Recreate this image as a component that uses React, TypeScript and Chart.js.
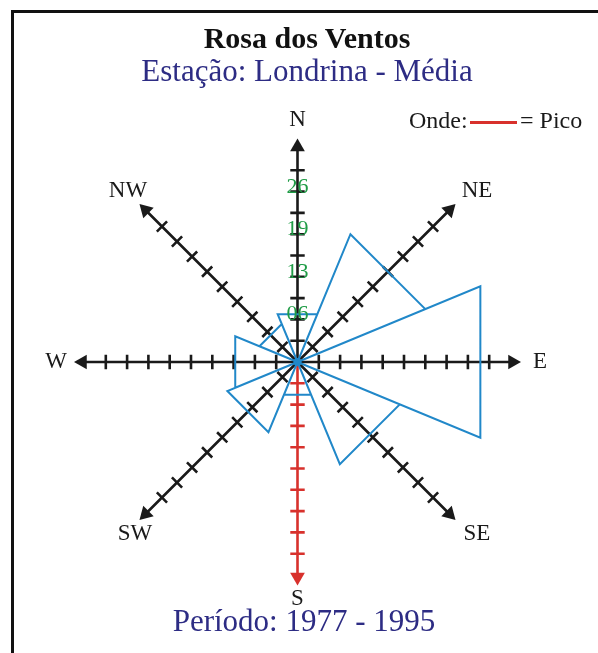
import React, { useEffect, useRef } from "react";
import { Chart, registerables } from "chart.js";

Chart.register(...registerables);

// ---- data ----
const directions = ["N", "NE", "E", "SE", "S", "SW", "W", "NW"];
const directionAngles = [90, 45, 0, -45, -90, -135, 180, 135]; // math degrees
const frequencies = [7.3, 19.5, 27.9, 15.6, 5.0, 10.7, 9.5, 5.8]; // % (Média)
const tickValues = [3.25, 6.5, 9.75, 13, 16.25, 19.5, 22.75, 26, 29.25];
const tickLabelValues = [6.5, 13, 19.5, 26];
const tickLabels = ["06", "13", "19", "26"];
const peakDirection = "S";
const axisLength = 34.1;

// ---- layout constants ----
const W = 598;
const H = 653;
const CX = 297.5;
const CY = 362;
const PX_PER_UNIT = 21.3 / 3.25;
const TICK_HALF = 1.1;
const HEAD_R = 8.5 / PX_PER_UNIT;
const LABEL_R = 37;
// small pixel nudges for the compass labels (style only)
const LABEL_NUDGE: Record<string, [number, number]> = {
  N: [0, 0],
  NE: [8, 0],
  E: [0, 0],
  SE: [8, 0],
  S: [0, -6],
  SW: [9, 0],
  W: [1, 0],
  NW: [2, 0],
};
const SERIF = '"Liberation Serif", "Times New Roman", serif';
const BLACK = "#1a1a1a";
const RED = "#d8312c";
const BLUE = "#2188c9";
const GREEN = "#1f9c46";
const NAVY = "#2d2c84";

function polar(r: number, deg: number) {
  const a = (deg * Math.PI) / 180;
  return { x: r * Math.cos(a), y: r * Math.sin(a) };
}

function buildWedges() {
  const pts: any[] = [];
  const half = 22.5;
  const k = 1 / Math.cos((half * Math.PI) / 180);
  directions.forEach((_, i) => {
    const ang = directionAngles[i];
    const r = frequencies[i] * k;
    pts.push({ x: 0, y: 0 });
    pts.push(polar(r, ang + half));
    pts.push(polar(r, ang - half));
  });
  pts.push({ x: 0, y: 0 });
  return pts;
}

function buildAxis(i: number) {
  const ang = directionAngles[i];
  const pts: any[] = [];
  pts.push({ x: 0, y: 0 });
  pts.push(polar(axisLength - HEAD_R, ang));
  const a = (ang * Math.PI) / 180;
  const px = -Math.sin(a);
  const py = Math.cos(a);
  tickValues.forEach((v) => {
    const c = polar(v, ang);
    pts.push({ x: null, y: null });
    pts.push({ x: c.x - px * TICK_HALF, y: c.y - py * TICK_HALF });
    pts.push({ x: c.x + px * TICK_HALF, y: c.y + py * TICK_HALF });
  });
  return pts;
}

const labelPlugin = {
  id: "roseLabels",
  afterDatasetsDraw(chart: any) {
    const { ctx } = chart;
    const xs = chart.scales.x;
    const ys = chart.scales.y;
    ctx.save();
    ctx.font = `23px ${SERIF}`;
    ctx.fillStyle = BLACK;
    ctx.textAlign = "center";
    ctx.textBaseline = "middle";
    directions.forEach((d, i) => {
      const p = polar(LABEL_R, directionAngles[i]);
      const [nx, ny] = LABEL_NUDGE[d] || [0, 0];
      ctx.fillText(d, xs.getPixelForValue(p.x) + nx, ys.getPixelForValue(p.y) + ny);
    });
    ctx.font = `22px ${SERIF}`;
    ctx.fillStyle = GREEN;
    ctx.textBaseline = "alphabetic";
    tickLabelValues.forEach((v, i) => {
      ctx.fillText(tickLabels[i], xs.getPixelForValue(0), ys.getPixelForValue(v) + 1);
    });
    ctx.restore();
  },
};

function RoseChart() {
  const ref = useRef<HTMLCanvasElement | null>(null);
  useEffect(() => {
    if (!ref.current) return;
    const axisSets = directions.map((d, i) => ({
      label: "axis-" + d,
      data: buildAxis(i),
      showLine: true,
      borderColor: d === peakDirection ? RED : BLACK,
      borderWidth: 2.6,
      borderCapStyle: "butt",
      pointRadius: 0,
      order: 3,
    }));
    const heads = directions.map((_, i) => polar(axisLength - HEAD_R, directionAngles[i]));
    const chart = new Chart(ref.current, {
      type: "scatter",
      data: {
        datasets: [
          {
            label: "Média",
            data: buildWedges(),
            showLine: true,
            borderColor: BLUE,
            borderWidth: 2,
            borderJoinStyle: "miter",
            pointRadius: 0,
            fill: false,
            order: 1,
          },
          {
            label: "centro",
            data: [{ x: 0, y: 0 }],
            pointRadius: 4,
            pointBackgroundColor: BLUE,
            pointBorderWidth: 0,
            order: 0,
          },
          {
            label: "pontas",
            data: heads,
            pointStyle: "triangle",
            pointRadius: 8.5,
            pointRotation: directionAngles.map((a) => 90 - a),
            pointBackgroundColor: directions.map((d) => (d === peakDirection ? RED : BLACK)),
            pointBorderWidth: 0,
            order: 2,
          },
          ...axisSets,
        ] as any,
      },
      options: {
        animation: false,
        responsive: false,
        maintainAspectRatio: false,
        layout: { padding: 0, autoPadding: false },
        events: [],
        scales: {
          x: { type: "linear", display: false, min: -CX / PX_PER_UNIT, max: (W - CX) / PX_PER_UNIT },
          y: { type: "linear", display: false, min: -(H - CY) / PX_PER_UNIT, max: CY / PX_PER_UNIT },
        },
        plugins: { legend: { display: false }, tooltip: { enabled: false }, title: { display: false } },
      } as any,
      plugins: [labelPlugin],
    });
    return () => chart.destroy();
  }, []);
  return <canvas ref={ref} width={W} height={H} style={{ position: "absolute", left: 0, top: 0, width: W, height: H }} />;
}

export default function App() {
  const text: React.CSSProperties = { position: "absolute", fontFamily: SERIF, whiteSpace: "nowrap", margin: 0 };
  return (
    <div style={{ position: "absolute", left: 0, top: 0, width: W, height: H, background: "#fff", overflow: "hidden" }}>
      <div
        style={{
          position: "absolute",
          left: 11,
          top: 10,
          width: 700,
          height: 700,
          borderLeft: "3px solid #111",
          borderTop: "3px solid #111",
        }}
      />
      <RoseChart />
      <div style={{ ...text, left: 16, width: 582, top: 23, textAlign: "center", fontSize: 30, lineHeight: "30px", fontWeight: "bold", color: "#111" }}>
        Rosa dos Ventos
      </div>
      <div style={{ ...text, left: 16, width: 582, top: 55, textAlign: "center", fontSize: 31, lineHeight: "31px", color: NAVY }}>
        Estação: Londrina - Média
      </div>
      <div style={{ ...text, left: 10, width: 588, top: 605, textAlign: "center", fontSize: 31, lineHeight: "31px", color: NAVY }}>
        Período: 1977 - 1995
      </div>
      <div style={{ ...text, left: 409, top: 108, fontSize: 24, lineHeight: "24px", color: BLACK }}>Onde:</div>
      <div style={{ position: "absolute", left: 470, top: 121, width: 47, height: 2.5, background: RED }} />
      <div style={{ ...text, left: 520, top: 108, fontSize: 24, lineHeight: "24px", color: BLACK }}>= Pico</div>
    </div>
  );
}
